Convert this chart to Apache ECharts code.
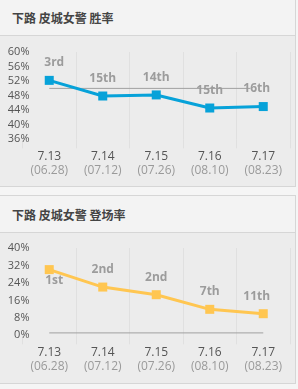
<!DOCTYPE html>
<html>
<head>
<meta charset="utf-8">
<script src="https://cdn.jsdelivr.net/npm/echarts@6/dist/echarts.min.js"></script>
<style>
  html, body { margin: 0; padding: 0; background: #f5f5f5; width: 298px; height: 389px; overflow: hidden; }
  .card { position: absolute; left: -1px; width: 297px; height: 189px; box-sizing: border-box;
          border: 1px solid #d6d6d6; background: #ececec; }
  .title { position: absolute; left: 0; top: 0; right: 0; height: 36px; border-bottom: 1px solid #d6d6d6;
           background: #f3f3f3; font: bold 12px "Noto Sans CJK SC", "Open Sans", sans-serif; color: #444;
           line-height: 36px; padding-left: 12px; box-sizing: content-box; }
  .chart { position: absolute; left: 0; width: 294px; height: 150px; }
</style>
</head>
<body>
<div class="card" style="top:-2px"><div class="title" style="line-height:37px">下路 皮城女警 胜率</div></div>
<div class="card" style="top:195px"><div class="title" style="line-height:38px">下路 皮城女警 登场率</div></div>
<div id="c1" class="chart" style="top:36px"></div>
<div id="c2" class="chart" style="top:233px"></div>
<script>
// ---- data ----
const patches = ['7.13', '7.14', '7.15', '7.16', '7.17'];
const dates = ['06.28', '07.12', '07.26', '08.10', '08.23'];

const winRate = [52.2, 47.9, 48.2, 44.6, 45.0];
const winRank = ['3rd', '15th', '14th', '15th', '16th'];
const winRef = [[0, 50], [3.76, 50]];
const winTicks = { min: 36, max: 60, interval: 4 };

const pickRate = [30.1, 22.1, 18.6, 11.9, 9.9];
const pickRank = ['1st', '2nd', '2nd', '7th', '11th'];
const pickRef = [[0, 1.1], [4, 1.1]];
const pickTicks = { min: 0, max: 40, interval: 8 };

const FONT = '"Open Sans", "Noto Sans", sans-serif';

function build(el, values, ranks, ref, ticks, color, gridTop, firstLabel) {
  const chart = echarts.init(document.getElementById(el), null, { renderer: 'canvas' });
  const data = values.map((v, i) => {
    const item = { value: v };
    if (i === 0) item.label = firstLabel;
    if (i === values.length - 1) item.label = { offset: [-6.5, 0] };
    return item;
  });
  chart.setOption({
    animation: false,
    grid: { left: 22.5, right: 4, top: gridTop, height: 87.3 },
    xAxis: [{
      type: 'category',
      data: patches,
      boundaryGap: true,
      axisLine: { show: false },
      axisTick: { show: true, interval: 0, length: 9, lineStyle: { color: '#e0e0e0' } },
      splitLine: { show: true, interval: 0, showMinLine: false, lineStyle: { color: '#e0e0e0', width: 1 } },
      axisLabel: {
        interval: 0,
        hideOverlap: false,
        margin: 10,
        formatter: (v, i) => '{a|' + v + '}\n{b|(' + dates[i] + ')}',
        rich: {
          a: { color: '#555', fontSize: 12, fontFamily: FONT, lineHeight: 14.5 },
          b: { color: '#9a9a9a', fontSize: 12, fontFamily: FONT, lineHeight: 14.5 }
        }
      }
    }, {
      type: 'value', min: -0.5, max: 4.5, show: false
    }],
    yAxis: {
      type: 'value',
      min: ticks.min, max: ticks.max, interval: ticks.interval,
      axisLine: { show: false },
      axisTick: { show: false },
      splitLine: { show: false },
      axisLabel: { margin: -7, color: '#555', fontSize: 11, fontFamily: FONT, formatter: '{value}%' }
    },
    series: [{
      type: 'line',
      xAxisIndex: 1,
      data: ref,
      symbol: 'none',
      silent: true,
      z: 1,
      lineStyle: { color: '#a0a0a0', width: 1 }
    }, {
      type: 'line',
      data: data,
      symbol: 'rect',
      symbolSize: 9,
      z: 3,
      itemStyle: { color: color },
      lineStyle: { color: color, width: 3 },
      label: {
        show: true,
        position: 'top',
        distance: 7,
        formatter: p => ranks[p.dataIndex],
        color: '#9c9c9c',
        fontWeight: 'bold',
        fontSize: 12,
        fontFamily: FONT
      }
    }]
  });
}

build('c1', winRate, winRank, winRef, winTicks, '#07a2d9', 16, { offset: [5, 0] });
build('c2', pickRate, pickRank, pickRef, pickTicks, '#ffc651', 15, { position: 'bottom', distance: 0, offset: [5, 0] });
</script>
</body>
</html>
